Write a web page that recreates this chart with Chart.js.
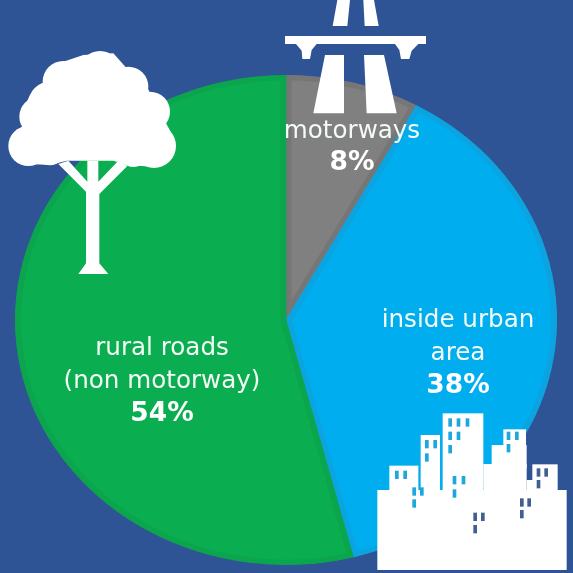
<!DOCTYPE html>
<html>
<head>
<meta charset="utf-8">
<style>
html,body{margin:0;padding:0;background:#2f5496;width:573px;height:573px;overflow:hidden}
canvas{display:block}
</style>
<script src="https://cdn.jsdelivr.net/npm/chart.js@4"></script>
</head>
<body>
<canvas id="c" width="573" height="573"></canvas>
<script>
const categories = ["motorways", "inside urban area", "rural roads (non motorway)"];
const shares = [8, 38, 54];
const labelLines = [["motorways"], ["inside urban", "area"], ["rural roads", "(non motorway)"]];
const sliceColors = ["#808080", "#00aeef", "#0aad50"];
const edgeColors = ["#767676", "#0ba4e0", "#0ba54d"];

const FONT = '"DejaVu Sans"';
const STRETCH_X = 271 / 245;

function poly(ctx, pts) {
  ctx.beginPath();
  pts.forEach((p, i) => i ? ctx.lineTo(p[0], p[1]) : ctx.moveTo(p[0], p[1]));
  ctx.closePath();
  ctx.fill();
}

function drawTree(ctx) {
  ctx.save();
  ctx.translate(0, 40);
  ctx.scale(1 / 3, 1 / 3);
  ctx.fillStyle = "#fff";
  [[300,95,62],[190,125,62],[385,140,60],[450,215,60],[150,190,65],[118,230,60],
   [85,318,60],[150,330,46],[462,318,66],[400,335,46]].forEach(c => {
    ctx.beginPath(); ctx.arc(c[0], c[1], c[2], 0, Math.PI * 2); ctx.fill();
  });
  poly(ctx, [[250,45],[340,40],[380,85],[435,125],[450,160],[500,190],[490,235],[520,290],[505,360],[460,380],[380,375],
    [340,362],[200,362],[150,375],[90,372],[40,345],[30,300],[70,255],[62,225],[90,165],[130,130],[145,85],[190,65]]);
  poly(ctx, [[175,372],[205,362],[262,425],[262,362],[295,362],[295,425],[355,362],[382,378],[298,462],[298,670],[325,702],[235,702],[258,670],[258,455]]);
  ctx.restore();
}

function drawMotorway(ctx) {
  ctx.save();
  ctx.translate(270, 0);
  ctx.scale(1 / 3, 1 / 3);
  ctx.fillStyle = "#fff";
  poly(ctx, [[202,0],[240,0],[232,78],[188,78]]);
  poly(ctx, [[280,0],[312,0],[326,78],[284,78]]);
  poly(ctx, [[45,108],[468,108],[468,132],[45,132]]);
  poly(ctx, [[78,132],[140,132],[125,150],[120,177],[97,177],[95,152]]);
  poly(ctx, [[375,132],[445,132],[425,152],[418,177],[393,177],[388,150]]);
  poly(ctx, [[165,165],[222,165],[222,340],[130,340]]);
  poly(ctx, [[282,165],[342,165],[380,340],[290,340]]);
  ctx.restore();
}

function drawCity(ctx) {
  ctx.save();
  ctx.translate(370, 400);
  ctx.scale(1 / 3, 1 / 3);
  ctx.fillStyle = "#fff";
  [[22,270,568,240],[58,197,87,80],[152,105,58,170],[218,40,122,235],[340,192,130,85],
   [365,135,105,70],[400,88,68,60],[470,240,20,35],[487,193,76,80]].forEach(r => ctx.fillRect(r[0], r[1], r[2], r[3]));
  const win = (color, list) => {
    ctx.fillStyle = color;
    list.forEach(w => ctx.fillRect(w[0], w[1], 11, 25));
  };
  win("#1ea7dc", [[75,212],[100,212],[127,262],[150,262],[127,298],[165,120],[190,120],[165,160],
    [235,55],[260,55],[287,55],[235,95],[260,95],[235,135],[248,228],[275,228],[248,268],
    [410,95],[435,95],[410,132]]);
  win("#41608f", [[500,205],[523,205],[500,240],[450,295],[472,295],[450,330],[310,338],[333,338],[310,375]]);
  ctx.restore();
}

function drawLabel(ctx, lines, pct, cx, firstBaseline, step) {
  ctx.fillStyle = "#f4fbf6";
  ctx.textAlign = "center";
  ctx.textBaseline = "alphabetic";
  ctx.font = "24.6px " + FONT;
  lines.forEach((t, i) => ctx.fillText(t, cx, firstBaseline + i * step));
  ctx.font = "bold 26.5px " + FONT;
  ctx.fillStyle = "#ffffff";
  ctx.fillText(pct + "%", cx, firstBaseline + lines.length * step);
}

const ellipsePlugin = {
  id: "ellipse",
  beforeDatasetsDraw(chart) {
    const a = chart.getDatasetMeta(0).data[0];
    const ctx = chart.ctx;
    ctx.save();
    ctx.translate(a.x, a.y);
    ctx.scale(STRETCH_X, 1);
    ctx.translate(-a.x, -a.y);
  },
  afterDatasetsDraw(chart) {
    chart.ctx.restore();
  }
};

const overlayPlugin = {
  id: "overlay",
  afterDraw(chart) {
    const ctx = chart.ctx;
    ctx.save();
    drawTree(ctx);
    drawMotorway(ctx);
    drawCity(ctx);
    drawLabel(ctx, labelLines[0], shares[0], 352, 138, 32);
    drawLabel(ctx, labelLines[1], shares[1], 458, 327, 33);
    drawLabel(ctx, labelLines[2], shares[2], 162, 355, 33);
    ctx.restore();
  }
};

new Chart(document.getElementById("c"), {
  type: "pie",
  data: {
    labels: categories,
    datasets: [{
      data: shares,
      backgroundColor: sliceColors,
      borderColor: edgeColors,
      borderWidth: 5,
      borderAlign: "inner",
      hoverOffset: 0
    }]
  },
  options: {
    responsive: false,
    animation: false,
    layout: { padding: { top: 75, bottom: 8, left: 41, right: 42 } },
    plugins: { legend: { display: false }, tooltip: { enabled: false } }
  },
  plugins: [ellipsePlugin, overlayPlugin]
});
</script>
</body>
</html>
